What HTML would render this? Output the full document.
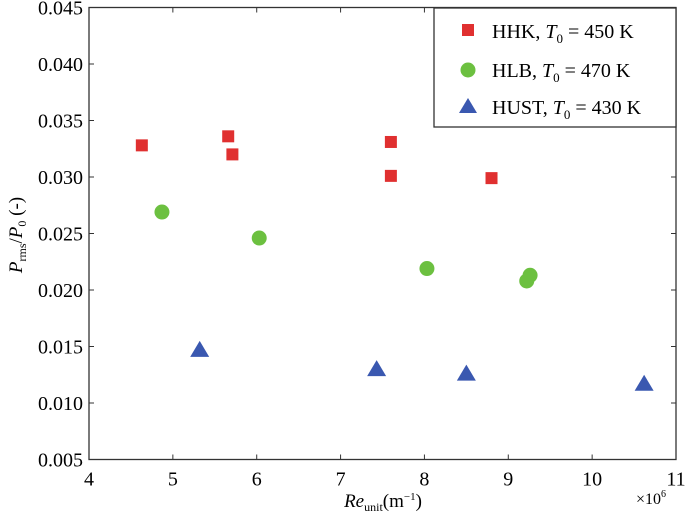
<!DOCTYPE html>
<html><head><meta charset="utf-8"><style>
html,body{margin:0;padding:0;background:#fff;}
svg{display:block;}
svg text{font-family:"Liberation Serif","Times New Roman",Times,serif !important;}
</style></head><body>
<svg id="chart" width="685" height="516" font-family="Liberation Serif, Times New Roman, serif">
<g id="axes"></g><g id="marks"></g>
<g>
<rect x="434" y="8" width="242" height="119" fill="#fff" stroke="#333" stroke-width="1.3"/>
<rect x="462" y="24" width="12" height="12" fill="#e03030"/>
<text x="492" y="38" font-size="20">HHK, <tspan font-style="italic">T</tspan><tspan font-size="13" dy="5">0</tspan><tspan dy="-5"> = 450 K</tspan></text>
<circle cx="468" cy="70" r="7.5" fill="#6cc040"/>
<text x="492" y="77" font-size="20">HLB, <tspan font-style="italic">T</tspan><tspan font-size="13" dy="5">0</tspan><tspan dy="-5"> = 470 K</tspan></text>
<polygon points="468,98 477,113 459,113" fill="#3a58b0"/>
<text x="492" y="114" font-size="20">HUST, <tspan font-style="italic">T</tspan><tspan font-size="13" dy="5">0</tspan><tspan dy="-5"> = 430 K</tspan></text>
</g>
<text x="22" y="235" font-size="19" transform="rotate(-90 22 235)" text-anchor="middle"><tspan font-style="italic">P</tspan><tspan font-size="12" dy="4">rms</tspan><tspan dy="-4">/</tspan><tspan font-style="italic">P</tspan><tspan font-size="12" dy="4">0</tspan><tspan dy="-4"> (-)</tspan></text>
<text x="383" y="507" font-size="19" text-anchor="middle"><tspan font-style="italic">Re</tspan><tspan font-size="12" dy="4">unit</tspan><tspan dy="-4">(m</tspan><tspan font-size="11" dy="-7">−1</tspan><tspan dy="7">)</tspan></text>
<text x="636" y="504" font-size="16">×10<tspan font-size="10" dy="-7">6</tspan></text>
</svg>
<script>
const xTicks=[4,5,6,7,8,9,10,11];
const yTicks=[0.005,0.010,0.015,0.020,0.025,0.030,0.035,0.040,0.045];
const hhkX=[4.63,5.66,5.71,7.6,7.6,8.8];
const hhkY=[0.0328,0.0336,0.0320,0.0331,0.0301,0.0299];
const hlbX=[4.87,6.03,8.03,9.22,9.26];
const hlbY=[0.0269,0.0246,0.0219,0.0208,0.0213];
const hustX=[5.32,7.43,8.5,10.62];
const hustY=[0.0147,0.0130,0.0126,0.0117];
const L=89,R=676,T=7.5,B=459.5;
const sx=v=>L+(v-4)/7*(R-L);
const sy=v=>B-(v-0.005)/0.04*(B-T);
const NS='http://www.w3.org/2000/svg';
function mk(tag,at,parent){const e=document.createElementNS(NS,tag);for(const k in at)e.setAttribute(k,at[k]);parent.appendChild(e);return e;}
const ax=document.getElementById('axes'),mg=document.getElementById('marks');
const frame=mk('rect',{x:L,y:T,width:R-L,height:B-T,fill:'none',stroke:'#333','stroke-width':1.3},ax);


xTicks.forEach(v=>{const x=sx(v);
mk('line',{x1:x,x2:x,y1:B,y2:B-5,stroke:'#333'},ax);mk('line',{x1:x,x2:x,y1:T,y2:T+5,stroke:'#333'},ax);
const t=mk('text',{x:x,y:B+26,'font-size':20,'text-anchor':'middle'},ax);t.textContent=v;

});
yTicks.forEach(v=>{const y=sy(v);
mk('line',{x1:L,x2:L+5,y1:y,y2:y,stroke:'#333'},ax);mk('line',{x1:R,x2:R-5,y1:y,y2:y,stroke:'#333'},ax);
const t=mk('text',{x:L-6,y:y+7,'font-size':20,'text-anchor':'end'},ax);t.textContent=v.toFixed(3);

});
hhkX.forEach((v,i)=>{const x=sx(v),y=sy(hhkY[i]);
const e=mk('rect',{x:x-6,y:y-6,width:12,height:12,fill:'#e03030'},mg);

});
hlbX.forEach((v,i)=>{const x=sx(v),y=sy(hlbY[i]);
const e=mk('circle',{cx:x,cy:y,r:7.5,fill:'#6cc040'},mg);

});
hustX.forEach((v,i)=>{const x=sx(v),y=sy(hustY[i]);
const e=mk('polygon',{points:`${x},${y-9} ${x+9.5},${y+7} ${x-9.5},${y+7}`,fill:'#3a58b0'},mg);

});
</script>
</body></html>
